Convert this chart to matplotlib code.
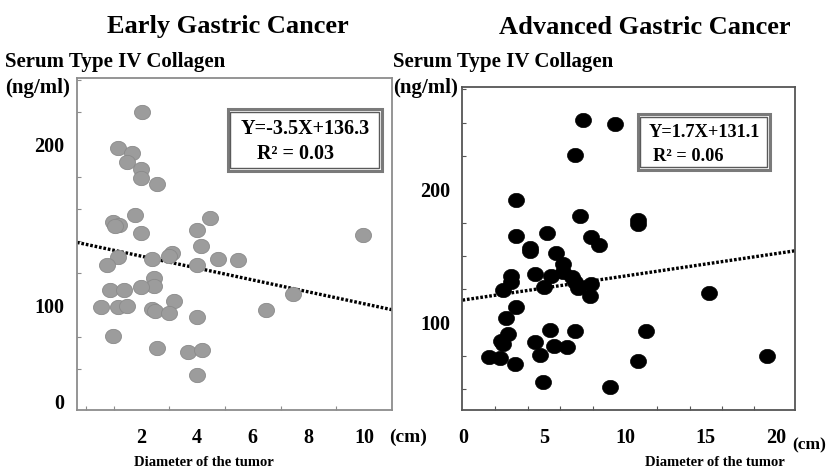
import numpy as np
import matplotlib
matplotlib.use("Agg")
import matplotlib.pyplot as plt
from matplotlib.path import Path
from matplotlib.patches import Rectangle
from matplotlib.transforms import ScaledTranslation

# ---------------- data ----------------
early_x = [2.03, 1.16, 1.67, 1.46, 1.98, 1.98, 2.56, 1.76, 4.46, 0.98, 1.19, 1.05,
           1.98, 3.98, 9.95, 4.15, 1.16, 2.36, 3.08, 3.00, 4.76, 5.46, 0.77, 3.98,
           2.46, 2.46, 0.86, 1.37, 1.98, 3.17, 0.56, 1.16, 1.46, 2.36, 2.48, 2.99,
           6.46, 3.98, 7.46, 0.98, 2.56, 3.66, 4.16, 3.98]
early_y = [219.9, 197.7, 194.8, 189.0, 184.4, 178.8, 175.5, 156.0, 154.1, 151.5, 149.8, 149.0,
           144.6, 146.7, 143.6, 136.7, 130.0, 128.8, 132.2, 130.5, 128.8, 127.8, 124.7, 124.7,
           117.0, 111.8, 109.3, 109.3, 111.4, 102.7, 98.6, 98.6, 99.6, 97.5, 96.5, 94.8,
           96.7, 92.5, 106.8, 80.9, 73.1, 71.0, 72.0, 56.3]

adv_x = [7.38, 9.38, 6.91, 3.26, 7.22, 10.82, 10.82, 3.26, 5.16, 7.90, 8.41, 4.12,
         4.12, 5.73, 6.15, 6.15, 6.70, 6.91, 7.11, 7.90, 7.84, 2.93, 2.93, 4.43,
         5.42, 5.01, 2.47, 3.26, 2.64, 2.78, 2.37, 2.47, 5.36, 6.91, 4.43, 5.61,
         6.41, 4.74, 1.61, 2.27, 3.20, 4.95, 9.07, 10.82, 11.28, 15.21, 18.76]
adv_y = [251.8, 248.8, 225.6, 192.0, 180.0, 177.0, 174.0, 165.0, 167.0, 164.0, 158.3, 156.3,
         154.0, 152.0, 144.0, 138.3, 134.5, 130.8, 125.8, 128.8, 120.0, 135.3, 130.3, 136.3,
         135.3, 127.0, 124.5, 112.0, 103.8, 91.5, 86.5, 83.8, 94.5, 93.8, 85.7, 82.7,
         81.5, 75.8, 74.5, 73.3, 68.8, 55.8, 52.0, 71.5, 93.8, 122.5, 75.0]

# regression lines as drawn in the figure (intercept, slope)
early_fit = (137.8, -3.7)
adv_fit = (117.0, 1.8)
early_eq = ["Y=-3.5X+136.3", "R\u00b2 = 0.03"]
adv_eq = ["Y=1.7X+131.1", "R\u00b2 = 0.06"]

titles = ["Early Gastric Cancer", "Advanced Gastric Cancer"]
ylabel_1 = "Serum Type IV Collagen"
ylabel_2 = "(ng/ml)"
xlabel = "Diameter of the tumor"

early_xticks = [2, 4, 6, 8, 10]
early_xminor = list(range(0, 11))
early_yticks = [40, 100, 200]
early_yticklabels = ["0", "100", "200"]
early_yminor = list(range(40, 241, 20))

adv_xticks = [0, 5, 10, 15, 20]
adv_xminor = list(range(0, 21, 2))
adv_yticks = [100, 200]
adv_yminor = list(range(50, 276, 25))

# ---------------- figure ----------------
W, H = 828, 471
fig = plt.figure(figsize=(W / 100, H / 100), dpi=100)
FONT = "Liberation Serif"

def fx(px):
    return px / W

def fy(py):
    return 1 - py / H

ax1 = fig.add_axes([fx(77), fy(410), fx(392) - fx(77), fy(78) - fy(410)])
ax2 = fig.add_axes([fx(462.5), fy(410), fx(795.5) - fx(462.5), fy(87) - fy(410)])

# ellipse marker
t = np.linspace(0, 2 * np.pi, 60)
ell = Path(np.column_stack([1.12 * np.cos(t), np.sin(t)]), closed=True)

ax1.plot(early_x, early_y, linestyle="none", marker=ell, markersize=11.5,
         markerfacecolor="#9c9c9c", markeredgecolor="#8a8a8a", markeredgewidth=0.6, zorder=3)
ax2.plot(adv_x, adv_y, linestyle="none", marker=ell, markersize=11.5,
         markerfacecolor="#000000", markeredgecolor="#000000", markeredgewidth=0.5, zorder=3)

ax1.set_xlim(-0.32, 11.0)
ax1.set_ylim(34.7, 241.3)
ax2.set_xlim(-0.04, 20.55)
ax2.set_ylim(34.5, 276.8)

for ax, (b0, b1) in [(ax1, early_fit), (ax2, adv_fit)]:
    xl = np.array(ax.get_xlim())
    ax.plot(xl, b0 + b1 * xl, color="black", linestyle=(0, (0.8, 0.55)), linewidth=2.4,
            zorder=2, solid_capstyle="butt")

for ax, sc in [(ax1, "#8c8c8c"), (ax2, "#555555")]:
    for s in ax.spines.values():
        s.set_color(sc)
        s.set_linewidth(1.3)
    ax.tick_params(which="both", direction="in", colors=sc)
    ax.tick_params(which="major", length=0, labelcolor="black")
    ax.tick_params(which="minor", length=3, width=0.8)

ax1.set_xticks(early_xticks)
ax1.set_xticks(early_xminor, minor=True)
ax1.set_yticks(early_yticks)
ax1.set_yticklabels(early_yticklabels)
ax1.set_yticks(early_yminor, minor=True)

ax2.set_xticks(adv_xticks)
ax2.set_xticks(adv_xminor, minor=True)
ax2.set_yticks(adv_yticks)
ax2.set_yticks(adv_yminor, minor=True)

for ax in (ax1, ax2):
    ax.tick_params(axis="x", which="major", pad=13)
    ax.tick_params(axis="y", which="major", pad=9)
    for lab in ax.get_xticklabels() + ax.get_yticklabels():
        lab.set_fontfamily(FONT)
        lab.set_fontweight("bold")
        lab.set_fontsize(14.5)

# nudge the last label of the right panel left, as in the original layout
last = ax2.xaxis.get_major_ticks()[-1].label1
last.set_transform(last.get_transform() + ScaledTranslation(-0.10, 0, fig.dpi_scale_trans))

# equation boxes
def eq_box(ax, x0, y0, x1, y1, lines, pos):
    ax.add_patch(Rectangle((x0, y0), x1 - x0, y1 - y0, transform=ax.transAxes,
                           fill=True, facecolor="white", edgecolor="#7a7a7a", linewidth=2.2, zorder=4))
    dx = 0.008
    dy = 0.008
    ax.add_patch(Rectangle((x0 + dx, y0 + dy), x1 - x0 - 2 * dx, y1 - y0 - 2 * dy,
                           transform=ax.transAxes, fill=False, edgecolor="#5a5a5a",
                           linewidth=1.0, zorder=4))
    for (tx, ty, fs), s in zip(pos, lines):
        ax.text(tx, ty, s, transform=ax.transAxes, ha="left", va="center",
                fontfamily=FONT, fontweight="bold", fontsize=fs, zorder=5)

eq_box(ax1, 0.478, 0.721, 0.967, 0.906, early_eq,
       [(0.520, 0.845, 14.5), (0.570, 0.770, 14.5)])
eq_box(ax2, 0.526, 0.743, 0.923, 0.915, adv_eq,
       [(0.560, 0.860, 13.2), (0.573, 0.784, 13.2)])

# titles and labels
for cx, s in [(228, titles[0]), (645, titles[1])]:
    fig.text(fx(cx), fy(27), s, ha="center", va="center", fontfamily=FONT,
             fontweight="bold", fontsize=19)
for lx in (5, 393):
    fig.text(fx(lx), fy(62), ylabel_1, ha="left", va="center", fontfamily=FONT,
             fontweight="bold", fontsize=15)
    fig.text(fx(lx), fy(88), ylabel_2, ha="left", va="center", fontfamily=FONT,
             fontweight="bold", fontsize=15)
for cx in (204, 715):
    fig.text(fx(cx), fy(463), xlabel, ha="center", va="center", fontfamily=FONT,
             fontweight="bold", fontsize=10.5)
fig.text(fx(408), fy(437), "(cm)", ha="center", va="center", fontfamily=FONT,
         fontweight="bold", fontsize=14)
fig.text(fx(826), fy(445), "(cm)", ha="right", va="center", fontfamily=FONT,
         fontweight="bold", fontsize=12.5)

fig.savefig("out.png", dpi=100)
